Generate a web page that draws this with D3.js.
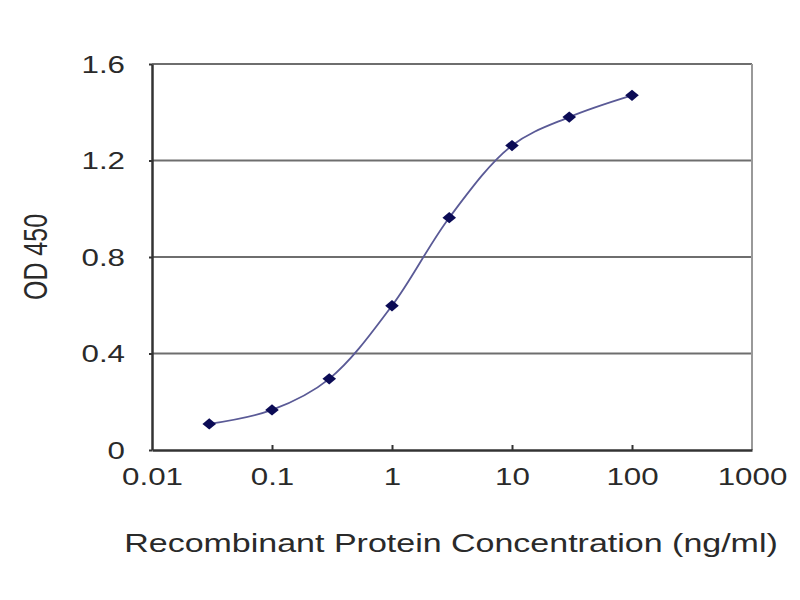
<!DOCTYPE html>
<meta charset="utf-8">
<style>
  body { margin: 0; background: #fff; }
  text { font-family: "Liberation Sans", Arial, sans-serif; fill: #2a2a2a; }
  .grid line { stroke: #6e6e6e; stroke-width: 2px; }
</style>
<svg width="800" height="600"></svg>
<script src="https://d3js.org/d3.v7.min.js"></script>
<script>
const concentrations = [0.03, 0.1, 0.3, 1, 3, 10, 30, 100];
const od450 = [0.108, 0.166, 0.295, 0.598, 0.963, 1.262, 1.38, 1.47];
const xTicks = [0.01, 0.1, 1, 10, 100, 1000];
const yTicks = [0, 0.4, 0.8, 1.2, 1.6];

const svg = d3.select("svg");
const margin = { top: 64, right: 48, bottom: 150, left: 152 };
const width = 800 - margin.left - margin.right,
  height = 600 - margin.top - margin.bottom;
const stretch = 1.36; // the reference text is wide, so stretch it sideways

const x = d3.scaleLog().domain([0.01, 1000]).range([0, width]);
const y = d3.scaleLinear().domain([0, 1.6]).range([height, 0]);

const g = svg.append("g").attr("transform", `translate(${margin.left},${margin.top})`);

// gridlines
g.append("g").attr("class", "grid")
  .selectAll("line")
  .data(yTicks.filter(d => d > 0))
  .enter().append("line")
    .attr("x1", 0).attr("x2", width)
    .attr("y1", d => y(d)).attr("y2", d => y(d));

// right border
g.append("line")
  .attr("x1", width).attr("x2", width).attr("y1", 0).attr("y2", height)
  .attr("stroke", "#999").attr("stroke-width", 2);

// axes
const yAxis = g.append("g")
  .call(d3.axisLeft(y).tickValues(yTicks).tickSize(3).tickSizeOuter(0)
    .tickFormat(d => d === 0 ? "0" : d3.format(".1f")(d)));
const xAxis = g.append("g").attr("transform", `translate(0,${height})`)
  .call(d3.axisBottom(x).tickValues(xTicks).tickSize(-5).tickSizeOuter(0)
    .tickFormat(d => String(d)));

[xAxis, yAxis].forEach(a => {
  a.select(".domain").attr("stroke", "#333").attr("stroke-width", 2.5);
  a.selectAll(".tick line").attr("stroke", "#333").attr("stroke-width", 2);
  a.selectAll("text").attr("font-size", 23).attr("fill", "#2a2a2a")
    .attr("transform", `scale(${stretch},1)`);
});
yAxis.selectAll("text").attr("x", -27 / stretch).attr("dy", "0.36em");
xAxis.selectAll("text").attr("y", 35).attr("dy", 0);
xAxis.selectAll(".tick").filter(d => d === 0.01 || d === 1000).select("line").remove();

// curve
const pts = concentrations.map((c, i) => [x(c), y(od450[i])]);
g.append("path")
  .attr("d", d3.line().curve(d3.curveCatmullRom.alpha(0.5))(pts))
  .attr("fill", "none")
  .attr("stroke", "#5a5a96")
  .attr("stroke-width", 1.8);

// diamond markers
g.selectAll(".pt")
  .data(pts)
  .enter().append("path")
    .attr("class", "pt")
    .attr("transform", d => `translate(${d[0]},${d[1]}) scale(1.2,1) rotate(45)`)
    .attr("d", d3.symbol().type(d3.symbolSquare).size(64))
    .attr("fill", "#0b0b55");

// axis titles
svg.append("text")
  .attr("transform", `translate(${margin.left + width / 2 - 1},552) scale(${stretch},1)`)
  .attr("text-anchor", "middle").attr("font-size", 25)
  .text("Recombinant Protein Concentration (ng/ml)");

svg.append("text")
  .attr("transform", `translate(47,257) scale(1.3,1) rotate(-90)`)
  .attr("text-anchor", "middle").attr("font-size", 25)
  .text("OD 450");
</script>
